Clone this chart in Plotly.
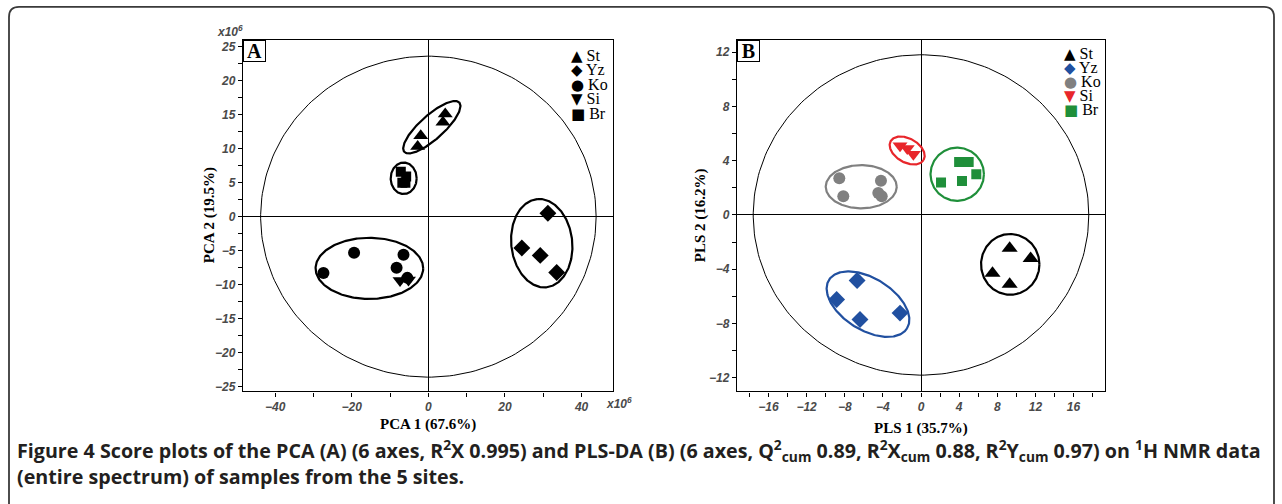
import numpy as np
import plotly.graph_objects as go

W, H = 1282, 504

# ---------------- Panel A: PCA scores (x10^6) ----------------
pca_st_x = [4.4, 3.8, -2.0, -2.8]
pca_st_y = [15.1, 13.9, 11.9, 10.3]
pca_yz_x = [31.2, 24.4, 29.2, 33.5]
pca_yz_y = [0.5, -4.6, -5.7, -8.2]
pca_ko_x = [-27.4, -19.4, -6.5, -8.3, -5.5]
pca_ko_y = [-8.3, -5.3, -5.6, -7.5, -9.0]
pca_si_x = [-7.4, -5.2]
pca_si_y = [-9.4, -9.3]
pca_br_x = [-7.2, -5.8, -6.8, -6.0]
pca_br_y = [6.6, 5.9, 5.0, 5.0]

# Hotelling ellipse (data units) and group ellipses (center, semi-axes in px, angle deg)
pca_t2 = (43.8, 23.6)
pca_grp_cx = [0.9, 29.6, -15.4, -6.45]
pca_grp_cy = [13.15, -3.9, -7.6, 5.64]
pca_grp_a = [37, 44.5, 53.8, 13]
pca_grp_b = [12, 30.5, 30.7, 15.8]
pca_grp_ang = [42, 96, 0, 0]

# ---------------- Panel B: PLS-DA scores ----------------
pls_st_x = [9.3, 11.5, 7.5, 9.3]
pls_st_y = [-2.45, -3.2, -4.3, -5.1]
pls_yz_x = [-6.7, -8.85, -6.4, -2.2]
pls_yz_y = [-4.83, -6.23, -7.7, -7.23]
pls_ko_x = [-8.57, -4.2, -8.15, -4.48, -4.12]
pls_ko_y = [2.7, 2.52, 1.38, 1.62, 1.38]
pls_si_x = [-2.2, -1.44, -0.8]
pls_si_y = [5.1, 4.9, 4.48]
pls_br_x = [4.0, 5.0, 5.8, 4.3, 2.1]
pls_br_y = [3.9, 3.9, 3.0, 2.5, 2.4]

pls_t2 = (17.6, 11.8)
pls_grp_cx = [9.36, -5.56, -6.27, -1.45, 3.8]
pls_grp_cy = [-3.64, -6.57, 2.08, 4.75, 3.0]
pls_grp_a = [29.2, 46, 35.5, 19, 26.7]
pls_grp_b = [30.5, 26, 21.7, 12, 26.7]
pls_grp_ang = [0, -32, 0, -30, 0]

groups = ["St", "Yz", "Ko", "Si", "Br"]
symbols = ["triangle-up", "diamond", "circle", "triangle-down", "square"]
glyphs = ["▲", "◆", "●", "▼", "■"]
colors_B = ["#000000", "#2150a0", "#808080", "#e8262b", "#1f8f3a"]

# ---------------- layout geometry (pixels) ----------------
A_left, A_right, top, bottom = 243, 613, 40, 393
B_left, B_right = 737, 1105
A_xr, A_yr = [-48.4, 48.2], [-25.7, 26.0]
B_xr, B_yr = [-19.3, 19.3], [-13.0, 12.9]

A_sx = (A_right - A_left) / (A_xr[1] - A_xr[0])
A_sy = (bottom - top) / (A_yr[1] - A_yr[0])
B_sx = (B_right - B_left) / (B_xr[1] - B_xr[0])
B_sy = (bottom - top) / (B_yr[1] - B_yr[0])


def px(x):
    return x / W


def py(y):
    return 1 - y / H


def ellipse(cx, cy, a, b, ang, sx, sy, n=240):
    t = np.linspace(0, 2 * np.pi, n)
    th = np.radians(ang)
    dx = a * np.cos(t) * np.cos(th) - b * np.sin(t) * np.sin(th)
    dy = a * np.cos(t) * np.sin(th) + b * np.sin(t) * np.cos(th)
    return cx + dx / sx, cy + dy / sy


fig = go.Figure()

# ---- Panel A ----
ex, ey = ellipse(0, 0, pca_t2[0] * A_sx, pca_t2[1] * A_sy, 0, A_sx, A_sy)
fig.add_trace(go.Scatter(x=ex, y=ey, mode="lines", line=dict(color="black", width=1),
                         xaxis="x", yaxis="y", hoverinfo="skip", showlegend=False))
for i in range(4):
    ex, ey = ellipse(pca_grp_cx[i], pca_grp_cy[i], pca_grp_a[i], pca_grp_b[i],
                     pca_grp_ang[i], A_sx, A_sy)
    fig.add_trace(go.Scatter(x=ex, y=ey, mode="lines", line=dict(color="black", width=2.2),
                             xaxis="x", yaxis="y", hoverinfo="skip", showlegend=False))

A_sets = [(pca_st_x, pca_st_y), (pca_yz_x, pca_yz_y), (pca_ko_x, pca_ko_y),
          (pca_si_x, pca_si_y), (pca_br_x, pca_br_y)]
A_sizes = [13, 13, 12, 13, 10]
for (xs, ys), g, s, sz in zip(A_sets, groups, symbols, A_sizes):
    fig.add_trace(go.Scatter(x=xs, y=ys, mode="markers", name=g,
                             marker=dict(symbol=s, size=sz, color="black"),
                             xaxis="x", yaxis="y", showlegend=False))

# ---- Panel B ----
ex, ey = ellipse(0, 0, pls_t2[0] * B_sx, pls_t2[1] * B_sy, 0, B_sx, B_sy)
fig.add_trace(go.Scatter(x=ex, y=ey, mode="lines", line=dict(color="black", width=1),
                         xaxis="x2", yaxis="y2", hoverinfo="skip", showlegend=False))
for i in range(5):
    ex, ey = ellipse(pls_grp_cx[i], pls_grp_cy[i], pls_grp_a[i], pls_grp_b[i],
                     pls_grp_ang[i], B_sx, B_sy)
    fig.add_trace(go.Scatter(x=ex, y=ey, mode="lines", line=dict(color=colors_B[i], width=2.2),
                             xaxis="x2", yaxis="y2", hoverinfo="skip", showlegend=False))

B_sets = [(pls_st_x, pls_st_y), (pls_yz_x, pls_yz_y), (pls_ko_x, pls_ko_y),
          (pls_si_x, pls_si_y), (pls_br_x, pls_br_y)]
B_sizes = [14, 13, 12, 13, 10]
for (xs, ys), g, s, sz, c in zip(B_sets, groups, symbols, B_sizes, colors_B):
    fig.add_trace(go.Scatter(x=xs, y=ys, mode="markers", name=g,
                             marker=dict(symbol=s, size=sz, color=c),
                             xaxis="x2", yaxis="y2", showlegend=False))

tickfont = dict(family="Liberation Sans", size=12, color="#4a4a4a", style="italic", weight="bold")


def axis(domain, rng, dtick, minor, anchor):
    return dict(domain=domain, range=rng, anchor=anchor, dtick=dtick, tick0=0,
                ticks="outside", ticklen=4, tickcolor="black", tickwidth=1,
                minor=dict(dtick=minor, tick0=0, ticks="outside", ticklen=4,
                           tickcolor="black", showgrid=False),
                showline=True, mirror=True, linecolor="black", linewidth=1.3,
                zeroline=True, zerolinecolor="black", zerolinewidth=1,
                showgrid=False, tickfont=tickfont, fixedrange=True)


ydom = [py(bottom), py(top)]
layout = dict(
    width=W, height=H, margin=dict(l=0, r=0, t=0, b=0),
    paper_bgcolor="white", plot_bgcolor="white", showlegend=False,
    xaxis=axis([px(A_left), px(A_right)], A_xr, 20, 10, "y"),
    yaxis=axis(ydom, A_yr, 5, 2.5, "x"),
    xaxis2=axis([px(B_left), px(B_right)], B_xr, 4, 2, "y2"),
    yaxis2=axis(ydom, B_yr, 4, 2, "x2"),
)
fig.update_layout(**layout)

serif = "Liberation Serif"
ann = []


def note(text, x, y, **kw):
    d = dict(text=text, x=px(x), y=py(y), xref="paper", yref="paper", showarrow=False,
             xanchor="center", yanchor="middle")
    d.update(kw)
    ann.append(d)


# axis titles
tf = dict(family=serif, size=15, color="black")
note("<b>PCA 1 (67.6%)</b>", 428, 426, font=tf)
note("<b>PCA 2 (19.5%)</b>", 209, 216, textangle=-90, font=tf)
note("<b>PLS 1 (35.7%)</b>", 921, 430, font=tf)
note("<b>PLS 2 (16.2%)</b>", 700, 216, textangle=-90, font=tf)

# scale factors
note("x10<sup>6</sup>", 245, 31, xanchor="right", font=tickfont)
note("x10<sup>6</sup>", 604, 405, xanchor="left", font=tickfont)

# panel letters
for letter, xl in (("A", A_left), ("B", B_left)):
    note("<b>%s</b>" % letter, xl, top, xanchor="left", yanchor="top", width=21, height=20,
         bordercolor="black", borderwidth=1, borderpad=0, bgcolor="white",
         font=dict(family=serif, size=20, color="black"))


# legends: one multi-line annotation each (tight row spacing like the reference)
def legend_text(cols):
    rows = []
    for gl, g, c in zip(glyphs, groups, cols):
        rows.append(f"<span style='font-family:DejaVu Sans;font-size:15px;color:{c}'>{gl}</span>"
                    f"<span style='font-size:16px'> {g}</span>")
    return "<br>".join(rows)


note(legend_text(["#000000"] * 5), 569, 85.5, xanchor="left", align="left",
     font=dict(family=serif, size=11.15, color="black"))
note(legend_text(colors_B), 1062, 82, xanchor="left", align="left",
     font=dict(family=serif, size=10.77, color="black"))

# caption
cap1 = ("<b>Figure 4 Score plots of the PCA (A) (6 axes, R<sup>2</sup>X 0.995) and PLS-DA (B) "
        "(6 axes, Q<sup>2</sup><sub>cum</sub> 0.89, R<sup>2</sup>X<sub>cum</sub> 0.88, "
        "R<sup>2</sup>Y<sub>cum</sub> 0.97) on <sup>1</sup>H NMR data</b>")
cap2 = "<b>(entire spectrum) of samples from the 5 sites.</b>"
capfont = dict(family="Open Sans", size=19.7, color="#231f20")
note(cap1, 15, 452, xanchor="left", font=capfont)
note(cap2, 15, 478, xanchor="left", font=capfont)

fig.update_layout(annotations=ann)

# outer rounded frame
r_x, r_y = 10 / W, 10 / H
x0, x1, yt, yb = px(9), px(1274), py(7), -0.05
path = (f"M {x0},{yb} L {x0},{yt - r_y} Q {x0},{yt} {x0 + r_x},{yt} "
        f"L {x1 - r_x},{yt} Q {x1},{yt} {x1},{yt - r_y} L {x1},{yb}")
fig.add_shape(type="path", path=path, xref="paper", yref="paper",
              line=dict(color="#3a3a3a", width=1.8))

fig.write_html("out.html", config={"displayModeBar": False},
               post_script="document.body.style.margin='0px';")
